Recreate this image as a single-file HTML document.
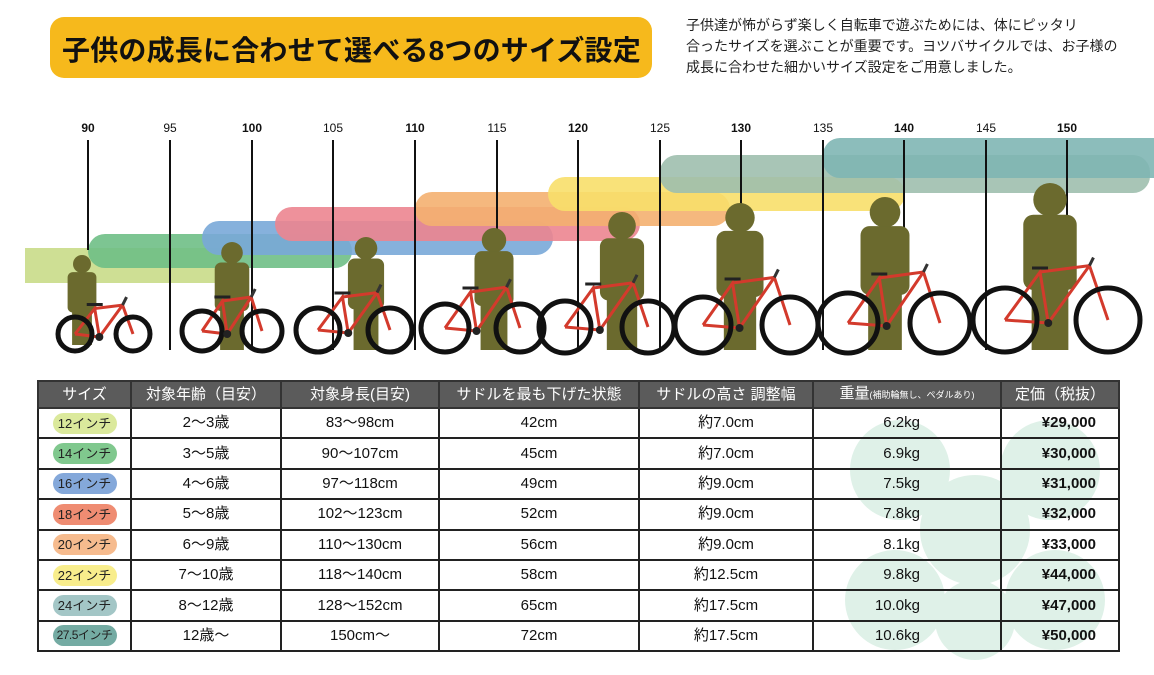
<!DOCTYPE html>
<html><head><meta charset="utf-8">
<style>
html,body{margin:0;padding:0;background:#fff;}
body{width:1154px;height:675px;position:relative;overflow:hidden;font-family:"Liberation Sans","Noto Sans CJK JP",sans-serif;}
#title{position:absolute;left:50px;top:17px;width:602px;height:61px;background:#f6b91c;border-radius:14px;}
#title span{position:absolute;left:12px;top:12px;font-size:28px;font-weight:bold;color:#111;white-space:nowrap;letter-spacing:0.2px;}
#desc{position:absolute;left:686px;top:15px;font-size:14px;line-height:21px;color:#222;white-space:nowrap;}
svg{position:absolute;left:0;top:0;}
table{position:absolute;left:37px;top:380px;width:1083px;border-collapse:collapse;font-size:15px;color:#111;table-layout:fixed;}
td,th{border:2px solid #222;height:28.4px;padding:0;text-align:center;white-space:nowrap;line-height:20px;}
th{background:#5b5b5b;color:#fff;font-weight:normal;font-size:15px;height:25px;border-color:#333;border-left-color:#ccc;}
th:first-child{border-left-color:#333;}
.pill{display:inline-block;width:64px;height:21px;line-height:21px;border-radius:11px;font-size:13px;color:#222;white-space:nowrap;}
.r{text-align:right;padding-right:80px;}
.p{font-weight:bold;text-align:right;padding-right:22px;}
small{font-size:9px;}
</style></head><body>
<div id="title"><span>子供の成長に合わせて選べる8つのサイズ設定</span></div>
<div id="desc">子供達が怖がらず楽しく自転車で遊ぶためには、体にピッタリ<br>合ったサイズを選ぶことが重要です。ヨツバサイクルでは、お子様の<br>成長に合わせた細かいサイズ設定をご用意しました。</div>
<svg id="s" width="1154" height="675" xmlns="http://www.w3.org/2000/svg">
<g id="clover" fill="#dff1e8">
<circle cx="900" cy="470" r="50"/><circle cx="1050" cy="470" r="50"/>
<circle cx="895" cy="600" r="50"/><circle cx="1055" cy="600" r="50"/>
<circle cx="975" cy="530" r="55"/><circle cx="975" cy="620" r="40"/>
</g>
<g id="bands" style="mix-blend-mode:multiply"></g>
<g id="ticks" font-family="Liberation Sans" font-size="12" font-weight="bold" text-anchor="middle" fill="#111">
<text x="88" y="132">90</text><text x="170" y="132" font-weight="normal">95</text><text x="252" y="132">100</text><text x="333" y="132" font-weight="normal">105</text><text x="415" y="132">110</text><text x="497" y="132" font-weight="normal">115</text><text x="578" y="132">120</text><text x="660" y="132" font-weight="normal">125</text><text x="741" y="132">130</text><text x="823" y="132" font-weight="normal">135</text><text x="904" y="132">140</text><text x="986" y="132" font-weight="normal">145</text><text x="1067" y="132">150</text>
</g>
<g id="lines" stroke="#111" stroke-width="2"></g>
<g id="people" fill="#6b6a2e"></g>
<g id="bikes"></g>
</svg>
<table>
<colgroup><col style="width:93px"><col style="width:150px"><col style="width:158px"><col style="width:200px"><col style="width:174px"><col style="width:188px"><col></colgroup>
<tr><th>サイズ</th><th>対象年齢（目安）</th><th>対象身長(目安)</th><th>サドルを最も下げた状態</th><th>サドルの高さ 調整幅</th><th>重量<small>(補助輪無し、ペダルあり)</small></th><th>定価（税抜）</th></tr>
<tr><td><span class="pill" style="background:#dbe99c">12インチ</span></td><td>2～3歳</td><td>83～98cm</td><td>42cm</td><td>約7.0cm</td><td class="r">6.2kg</td><td class="p">¥29,000</td></tr>
<tr><td><span class="pill" style="background:#80c88e">14インチ</span></td><td>3～5歳</td><td>90～107cm</td><td>45cm</td><td>約7.0cm</td><td class="r">6.9kg</td><td class="p">¥30,000</td></tr>
<tr><td><span class="pill" style="background:#84a8da">16インチ</span></td><td>4～6歳</td><td>97～118cm</td><td>49cm</td><td>約9.0cm</td><td class="r">7.5kg</td><td class="p">¥31,000</td></tr>
<tr><td><span class="pill" style="background:#ef8c72">18インチ</span></td><td>5～8歳</td><td>102～123cm</td><td>52cm</td><td>約9.0cm</td><td class="r">7.8kg</td><td class="p">¥32,000</td></tr>
<tr><td><span class="pill" style="background:#f6bb8e">20インチ</span></td><td>6～9歳</td><td>110～130cm</td><td>56cm</td><td>約9.0cm</td><td class="r">8.1kg</td><td class="p">¥33,000</td></tr>
<tr><td><span class="pill" style="background:#f8ed8c">22インチ</span></td><td>7～10歳</td><td>118～140cm</td><td>58cm</td><td>約12.5cm</td><td class="r">9.8kg</td><td class="p">¥44,000</td></tr>
<tr><td><span class="pill" style="background:#a3c6c6">24インチ</span></td><td>8～12歳</td><td>128～152cm</td><td>65cm</td><td>約17.5cm</td><td class="r">10.0kg</td><td class="p">¥47,000</td></tr>
<tr><td><span class="pill" style="background:#74aba3;font-size:12px;letter-spacing:-0.5px">27.5インチ</span></td><td>12歳～</td><td>150cm～</td><td>72cm</td><td>約17.5cm</td><td class="r">10.6kg</td><td class="p">¥50,000</td></tr>
</table>
<script>
var NS="http://www.w3.org/2000/svg";
function el(p,t,a){var e=document.createElementNS(NS,t);for(var k in a)e.setAttribute(k,a[k]);document.getElementById(p).appendChild(e);return e;}
[[25,232,248,35,"#c9dc88",0],[88,352,234,34,"#6fbf86",1],[202,553,221,34,"#79a9d8",1],[275,640,207,34,"#ec8590",1],[415,730,192,34,"#f4b070",1],[548,905,177,34,"#f8df6a",1],[660,1150,155,38,"#9fbfae",1],[823,1180,138,40,"#7fb6b4",1]].forEach(function(b){
 el("bands","rect",{x:b[0],y:b[2],width:b[1]-b[0],height:b[3],rx:b[5]?17:0,fill:b[4],opacity:0.9});
});
[[88,140,250],[170,140,350],[252,140,350],[333,140,350],[415,140,350],[497,140,260],[578,140,350],[660,140,350],[741,140,290],[823,140,350],[904,140,230],[986,140,350],[1067,140,215]].forEach(function(l){
 el("lines","line",{x1:l[0],y1:l[1],x2:l[0],y2:l[2]});
});
[[82,255,345],[232,242,350],[366,237,350],[494,228,350],[622,212,350],[740,203,350],[885,197,350],[1050,183,350]].forEach(function(p){
 var H=p[2]-p[1],r=H*0.1,cx=p[0];
 el("people","circle",{cx:cx,cy:p[1]+r,r:r});
 el("people","rect",{x:cx-H*0.16,y:p[1]+1.9*r,width:H*0.32,height:H*0.45,rx:H*0.06});
 el("people","rect",{x:cx-H*0.11,y:p[1]+H*0.5,width:H*0.22,height:H*0.5});
});
[[75,133,17,334],[202,262,20,331],[318,390,22,330],[445,520,24,328],[565,648,26,327],[703,790,28,325],[848,940,30,323],[1005,1108,32,320]].forEach(function(b){
 var a=b[0],f=b[1],r=b[2],cy=b[3],d=f-a;
 var bbx=a+d*0.42,bby=cy+3,sx=bbx-d*0.08,sy=cy-1.5*r,hx=f-d*0.18,hy=cy-1.7*r;
 el("bikes","polyline",{points:a+","+cy+" "+bbx+","+bby+" "+sx+","+sy+" "+a+","+cy,fill:"none",stroke:"#d33a2c","stroke-width":3});
 el("bikes","polyline",{points:sx+","+sy+" "+hx+","+hy+" "+f+","+cy,fill:"none",stroke:"#d33a2c","stroke-width":3});
 el("bikes","line",{x1:bbx,y1:bby,x2:hx,y2:hy,stroke:"#d33a2c","stroke-width":3});
 el("bikes","line",{x1:sx-8,y1:sy-4,x2:sx+8,y2:sy-4,stroke:"#222","stroke-width":3});
 el("bikes","line",{x1:hx,y1:hy,x2:hx+4,y2:hy-8,stroke:"#333","stroke-width":3});
 el("bikes","circle",{cx:a,cy:cy,r:r,fill:"none",stroke:"#111","stroke-width":5});
 el("bikes","circle",{cx:f,cy:cy,r:r,fill:"none",stroke:"#111","stroke-width":5});
 el("bikes","circle",{cx:bbx,cy:bby,r:4,fill:"#222"});
});
</script>
</body></html>
